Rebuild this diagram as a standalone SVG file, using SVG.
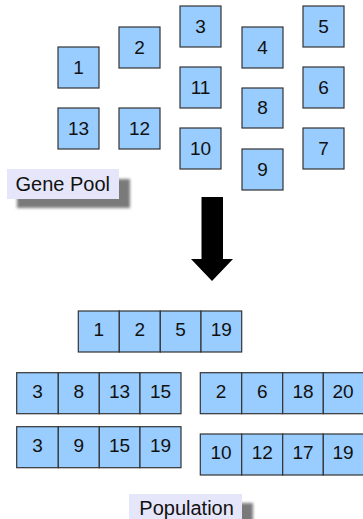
<svg xmlns="http://www.w3.org/2000/svg" width="363" height="519" viewBox="0 0 363 519">
  <style>
    .gene rect { fill: #99ccff; stroke: #333333; stroke-width: 1.2; }
    .cell { fill: #99ccff; stroke: #333333; stroke-width: 1.2; }
    text { font-family: "Liberation Sans", Arial, sans-serif; font-size: 19px; fill: #111111; text-anchor: middle; }
    .label text { text-anchor: start; font-size: 20px; }
    .label rect.bg { fill: #e6e6fa; }
    .label rect.shadow { fill: #7a7a7a; filter: url(#soft); }
  </style>
  <defs>
    <filter id="soft" x="-20%" y="-40%" width="140%" height="180%">
      <feGaussianBlur stdDeviation="1.6"/>
    </filter>
  </defs>
  <rect width="363" height="519" fill="#ffffff"/>

  <!-- gene pool -->
  <g id="g1" class="gene"><rect x="58" y="47" width="41" height="41"/><text x="78.5" y="74">1</text></g>
  <g id="g2" class="gene"><rect x="119" y="27" width="41" height="41"/><text x="139.5" y="54">2</text></g>
  <g id="g3" class="gene"><rect x="180" y="6" width="41" height="41"/><text x="200.5" y="33">3</text></g>
  <g id="g4" class="gene"><rect x="242" y="27" width="41" height="41"/><text x="262.5" y="54">4</text></g>
  <g id="g5" class="gene"><rect x="303" y="6" width="41" height="41"/><text x="323.5" y="33">5</text></g>
  <g id="g11" class="gene"><rect x="180" y="67" width="41" height="41"/><text x="200.5" y="94">11</text></g>
  <g id="g6" class="gene"><rect x="303" y="67" width="41" height="41"/><text x="323.5" y="94">6</text></g>
  <g id="g8" class="gene"><rect x="242" y="88" width="41" height="40"/><text x="262.5" y="114">8</text></g>
  <g id="g13" class="gene"><rect x="58" y="108" width="41" height="41"/><text x="78.5" y="135">13</text></g>
  <g id="g12" class="gene"><rect x="119" y="108" width="41" height="41"/><text x="139.5" y="135">12</text></g>
  <g id="g10" class="gene"><rect x="180" y="128" width="41" height="41"/><text x="200.5" y="155">10</text></g>
  <g id="g7" class="gene"><rect x="303" y="128" width="41" height="41"/><text x="323.5" y="155">7</text></g>
  <g id="g9" class="gene"><rect x="242" y="149" width="41" height="41"/><text x="262.5" y="176">9</text></g>

  <g id="gene-pool-label" class="label">
    <rect class="shadow" x="17" y="179" width="113" height="29"/>
    <rect class="bg" x="7" y="169" width="112" height="30"/>
    <text x="15.5" y="191">Gene Pool</text>
  </g>

  <!-- connectors -->
  <g id="connectors">
    <polygon points="201.5,197 223,197 223,259 233,259 212,281 191,259 201.5,259" fill="#000000"/>
  </g>

  <!-- population -->
  <g id="chromo1">
    <rect class="cell" x="78.3" y="311" width="41" height="41"/>
    <rect class="cell" x="119.3" y="311" width="41" height="41"/>
    <rect class="cell" x="160.3" y="311" width="40.7" height="41"/>
    <rect class="cell" x="201" y="311" width="40.7" height="41"/>
    <text x="98.8" y="336">1</text><text x="139.8" y="336">2</text><text x="180.6" y="336">5</text><text x="221.3" y="336">19</text>
  </g>
  <g id="chromo2">
    <rect class="cell" x="16.7" y="372.7" width="41.6" height="41"/>
    <rect class="cell" x="58.3" y="372.7" width="41" height="41"/>
    <rect class="cell" x="99.3" y="372.7" width="40.7" height="41"/>
    <rect class="cell" x="140" y="372.7" width="41" height="41"/>
    <text x="37.5" y="398">3</text><text x="78.8" y="398">8</text><text x="119.6" y="398">13</text><text x="160.5" y="398">15</text>
  </g>
  <g id="chromo3">
    <rect class="cell" x="200.3" y="372.7" width="41.4" height="41"/>
    <rect class="cell" x="241.7" y="372.7" width="41" height="41"/>
    <rect class="cell" x="282.7" y="372.7" width="40.6" height="41"/>
    <rect class="cell" x="323.3" y="372.7" width="41" height="41"/>
    <text x="221" y="398">2</text><text x="262.2" y="398">6</text><text x="303" y="398">18</text><text x="343" y="398">20</text>
  </g>
  <g id="chromo4">
    <rect class="cell" x="16.7" y="426.7" width="41.6" height="41"/>
    <rect class="cell" x="58.3" y="426.7" width="41" height="41"/>
    <rect class="cell" x="99.3" y="426.7" width="40.7" height="41"/>
    <rect class="cell" x="140" y="426.7" width="41" height="41"/>
    <text x="37.5" y="452">3</text><text x="78.8" y="452">9</text><text x="119.6" y="452">15</text><text x="160.5" y="452">19</text>
  </g>
  <g id="chromo5">
    <rect class="cell" x="200.3" y="434" width="41.4" height="41"/>
    <rect class="cell" x="241.7" y="434" width="41" height="41"/>
    <rect class="cell" x="282.7" y="434" width="40.6" height="41"/>
    <rect class="cell" x="323.3" y="434" width="41" height="41"/>
    <text x="221" y="459">10</text><text x="262.2" y="459">12</text><text x="303" y="459">17</text><text x="343" y="459">19</text>
  </g>

  <g id="population-label" class="label">
    <rect class="shadow" x="238" y="503" width="15" height="20"/>
    <rect class="bg" x="129" y="494" width="113" height="30"/>
    <text x="139.3" y="515">Population</text>
  </g>
</svg>
